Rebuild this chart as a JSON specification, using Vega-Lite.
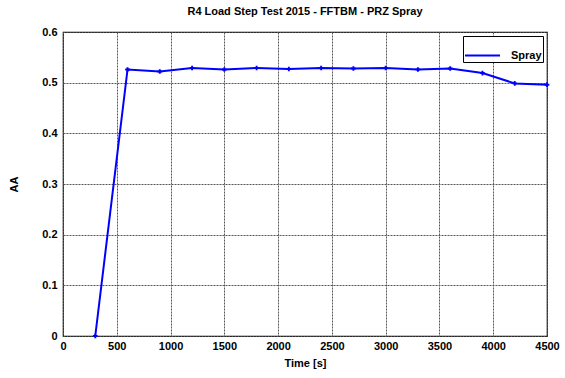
{
  "$schema": "https://vega.github.io/schema/vega-lite/v6.json",
  "width": 484,
  "height": 304,
  "autosize": {"type": "none"},
  "padding": {"left": 63, "top": 32, "right": 18, "bottom": 42},
  "background": "white",
  "title": {
    "text": "R4 Load Step Test 2015 - FFTBM - PRZ Spray",
    "font": "Liberation Sans",
    "fontSize": 11,
    "fontWeight": "bold",
    "color": "black",
    "offset": 9
  },
  "config": {
    "view": {"stroke": "black", "strokeWidth": 1.2},
    "axis": {
      "labelFont": "Liberation Sans",
      "labelFontSize": 11,
      "labelFontWeight": "bold",
      "labelColor": "black",
      "titleFont": "Liberation Sans",
      "titleFontSize": 11,
      "titleFontWeight": "bold",
      "titleColor": "black",
      "grid": true,
      "gridColor": "#555555",
      "gridDash": [2, 1],
      "gridWidth": 1,
      "gridOpacity": 1,
      "domain": false,
      "tickColor": "black",
      "tickSize": 0
    }
  },
  "data": {
    "values": [
      {"t": 300, "v": 0, "s": "Spray"},
      {"t": 600, "v": 0.526, "s": "Spray"},
      {"t": 900, "v": 0.522, "s": "Spray"},
      {"t": 1200, "v": 0.529, "s": "Spray"},
      {"t": 1500, "v": 0.526, "s": "Spray"},
      {"t": 1800, "v": 0.529, "s": "Spray"},
      {"t": 2100, "v": 0.527, "s": "Spray"},
      {"t": 2400, "v": 0.529, "s": "Spray"},
      {"t": 2700, "v": 0.528, "s": "Spray"},
      {"t": 3000, "v": 0.529, "s": "Spray"},
      {"t": 3300, "v": 0.526, "s": "Spray"},
      {"t": 3600, "v": 0.528, "s": "Spray"},
      {"t": 3900, "v": 0.519, "s": "Spray"},
      {"t": 4200, "v": 0.4985, "s": "Spray"},
      {"t": 4500, "v": 0.496, "s": "Spray"}
    ]
  },
  "mark": {
    "type": "line",
    "strokeWidth": 2,
    "clip": false,
    "point": {"shape": "cross", "size": 22, "filled": true, "color": "#0000ff"}
  },
  "encoding": {
    "x": {
      "field": "t",
      "type": "quantitative",
      "title": "Time [s]",
      "scale": {"domain": [0, 4500], "nice": false},
      "axis": {"values": [0, 500, 1000, 1500, 2000, 2500, 3000, 3500, 4000, 4500], "format": "d", "labelPadding": 4, "titlePadding": 6, "labelFlush": false}
    },
    "y": {
      "field": "v",
      "type": "quantitative",
      "title": "AA",
      "scale": {"domain": [0, 0.6], "nice": false},
      "axis": {"values": [0, 0.1, 0.2, 0.3, 0.4, 0.5, 0.6], "format": ".1~f", "labelPadding": 6, "titlePadding": 22, "labelFlush": false}
    },
    "color": {
      "field": "s",
      "type": "nominal",
      "scale": {"range": ["#0000ff"]},
      "legend": {
        "title": null,
        "orient": "top-right",
        "offset": 4,
        "strokeColor": "black",
        "fillColor": "white",
        "padding": 1,
        "symbolType": "stroke",
        "symbolStrokeWidth": 2,
        "symbolSize": 1225,
        "labelOffset": 10,
        "labelFont": "Liberation Sans",
        "labelFontSize": 11,
        "labelFontWeight": "bold",
        "labelColor": "black"
      }
    }
  }
}
